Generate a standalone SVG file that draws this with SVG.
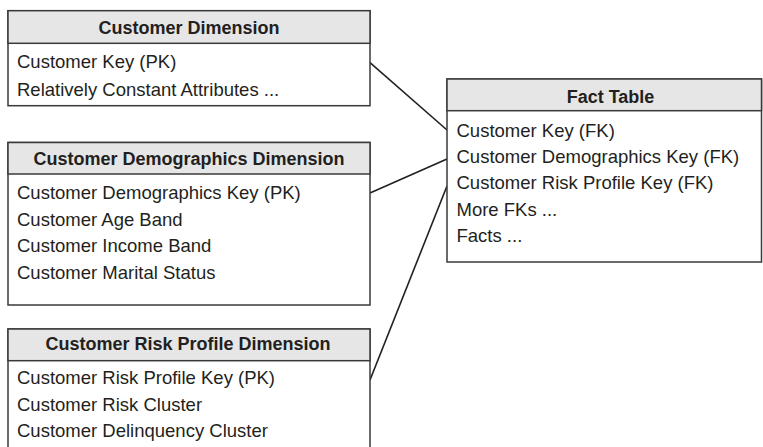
<svg xmlns="http://www.w3.org/2000/svg" width="763" height="447" viewBox="0 0 763 447">
  <style>
    .box { fill: #ffffff; stroke: #3a3a3a; stroke-width: 1.5; }
    .hdr { fill: #e6e6e6; stroke: #3a3a3a; stroke-width: 1.5; }
    .title { font-family: "Liberation Sans", Arial, sans-serif; font-size: 18px; font-weight: bold; fill: #231f20; text-anchor: middle; }
    .row { font-family: "Liberation Sans", Arial, sans-serif; font-size: 18.5px; fill: #231f20; }
    .conn { stroke: #231f20; stroke-width: 1.6; fill: none; }
  </style>
  <rect width="763" height="447" fill="#ffffff"/>

  <g id="connectors">
    <line class="conn" x1="370" y1="62.7" x2="447" y2="130"/>
    <line class="conn" x1="370" y1="193" x2="447" y2="159"/>
    <line class="conn" x1="370" y1="380" x2="447" y2="186"/>
  </g>

  <g id="customer-dimension">
    <rect class="box" x="8" y="10.7" width="362" height="95"/>
    <rect class="hdr" x="8" y="10.7" width="362" height="32.6"/>
    <text class="title" x="189" y="34.3">Customer Dimension</text>
    <text class="row" x="17" y="68.3">Customer Key (PK)</text>
    <text class="row" x="17" y="95.5">Relatively Constant Attributes ...</text>
  </g>

  <g id="customer-demographics-dimension">
    <rect class="box" x="8" y="142.5" width="362" height="162.5"/>
    <rect class="hdr" x="8" y="142.5" width="362" height="31.5"/>
    <text class="title" x="189" y="165">Customer Demographics Dimension</text>
    <text class="row" x="17" y="199">Customer Demographics Key (PK)</text>
    <text class="row" x="17" y="225.5">Customer Age Band</text>
    <text class="row" x="17" y="252">Customer Income Band</text>
    <text class="row" x="17" y="278.5">Customer Marital Status</text>
  </g>

  <g id="customer-risk-profile-dimension">
    <rect class="box" x="8" y="329" width="362" height="140"/>
    <rect class="hdr" x="8" y="329" width="362" height="31.7"/>
    <text class="title" x="188" y="350">Customer Risk Profile Dimension</text>
    <text class="row" x="17" y="384">Customer Risk Profile Key (PK)</text>
    <text class="row" x="17" y="410.5">Customer Risk Cluster</text>
    <text class="row" x="17" y="437">Customer Delinquency Cluster</text>
  </g>

  <g id="fact-table">
    <rect class="box" x="447" y="79" width="314.5" height="183"/>
    <rect class="hdr" x="447" y="79" width="314.5" height="31.7"/>
    <text class="title" x="610.5" y="102.7">Fact Table</text>
    <text class="row" x="456.5" y="136.7">Customer Key (FK)</text>
    <text class="row" x="456.5" y="163">Customer Demographics Key (FK)</text>
    <text class="row" x="456.5" y="189.3">Customer Risk Profile Key (FK)</text>
    <text class="row" x="456.5" y="215.5">More FKs ...</text>
    <text class="row" x="456.5" y="241.7">Facts ...</text>
  </g>
</svg>
